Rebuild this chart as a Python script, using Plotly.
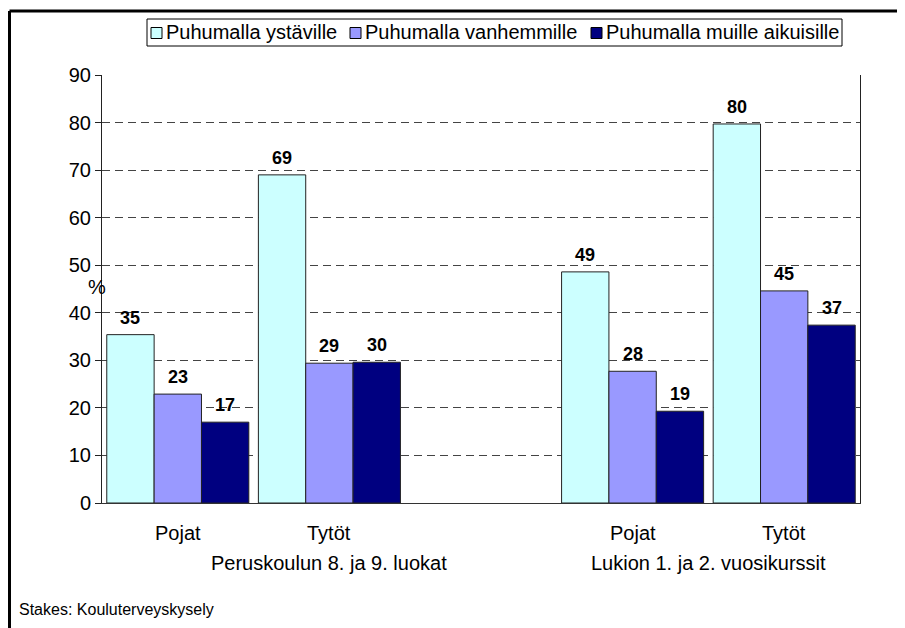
import plotly.graph_objects as go

# ---- data ----
sexes = ["Pojat", "Tytöt", "", "Pojat", "Tytöt"]
schools = ["Peruskoulun 8. ja 9. luokat", "Peruskoulun 8. ja 9. luokat", "Peruskoulun 8. ja 9. luokat",
           "Lukion 1. ja 2. vuosikurssit", "Lukion 1. ja 2. vuosikurssit"]
series_names = ["Puhumalla ystäville", "Puhumalla vanhemmille", "Puhumalla muille aikuisille"]
ystaville = [35.4, 69.0, None, 48.6, 79.7]
vanhemmille = [22.9, 29.4, None, 27.7, 44.6]
muille = [17.0, 29.6, None, 19.3, 37.4]
y_ticks = [0, 10, 20, 30, 40, 50, 60, 70, 80, 90]
source = "Stakes: Kouluterveyskysely"
y_title = "%"

colors = ["#CCFFFF", "#9999FF", "#000080"]
FONT = "Liberation Sans, Arial, sans-serif"

OFF = 8  # page body margin
W, H = 897, 620
L, T = 94, 67
R = W - (860 - OFF)
B = H - (503 - OFF)
pw, ph = W - L - R, H - T - B
BARGAP = 0.063


def px_x(px):
    """screen x pixel -> paper coordinate"""
    return (px - OFF - L) / pw


def px_y(py):
    """screen y pixel -> paper coordinate"""
    return (H - B - (py - OFF)) / ph


xs = list(range(len(sexes)))
all_series = [ystaville, vanhemmille, muille]
fig = go.Figure()
for name, vals, col in zip(series_names, all_series, colors):
    fig.add_trace(go.Bar(
        x=xs, y=vals, name=name,
        marker=dict(color=col, line=dict(color="#222222", width=1)),
        showlegend=False,
    ))

annotations = []
# value labels above bars (offset within group in pixels)
slot_px = pw / len(sexes)
bar_px = slot_px * (1 - BARGAP) / len(all_series)
for k, vals in enumerate(all_series):
    for i, v in enumerate(vals):
        if v is None:
            continue
        annotations.append(dict(x=i, y=v, xref="x", yref="y", text=f"<b>{v:.0f}</b>",
                                showarrow=False, xshift=(k - (len(all_series) - 1) / 2) * bar_px,
                                yshift=5, yanchor="bottom", xanchor="center",
                                font=dict(family=FONT, size=18, color="black")))
# category labels
for i, s in enumerate(sexes):
    if s:
        annotations.append(dict(x=i, y=px_y(533), xref="x", yref="paper", text=s,
                                showarrow=False, font=dict(family=FONT, size=20, color="black"),
                                xanchor="center", yanchor="middle"))
# school group labels
seen = []
for sc in schools:
    if sc not in seen:
        seen.append(sc)
for sc in seen:
    idx = [i for i, s in enumerate(schools) if s == sc]
    cx = (min(idx) + max(idx)) / 2
    annotations.append(dict(x=cx, y=px_y(563), xref="x", yref="paper", text=sc,
                            showarrow=False, font=dict(family=FONT, size=20, color="black"),
                            xanchor="center", yanchor="middle"))
# source
annotations.append(dict(x=px_x(17), y=px_y(609), xref="paper", yref="paper", text=source,
                        showarrow=False, font=dict(family=FONT, size=16, color="black"),
                        xanchor="left", yanchor="middle"))
# y title
annotations.append(dict(x=px_x(97), y=px_y(287), xref="paper", yref="paper", text=y_title,
                        showarrow=False, font=dict(family=FONT, size=20, color="black"),
                        xanchor="center", yanchor="middle"))

shapes = []
# outer frame (left and top edges)
shapes.append(dict(type="line", xref="paper", yref="paper", x0=px_x(9.5), x1=px_x(9.5),
                   y0=px_y(700), y1=px_y(11), line=dict(color="black", width=3)))
shapes.append(dict(type="line", xref="paper", yref="paper", x0=px_x(9.5), x1=px_x(1000),
                   y0=px_y(11), y1=px_y(11), line=dict(color="black", width=3)))

# manual legend
leg_box = (147, 19, 842, 46)
shapes.append(dict(type="rect", xref="paper", yref="paper",
                   x0=px_x(leg_box[0]), x1=px_x(leg_box[2]), y0=px_y(leg_box[3]), y1=px_y(leg_box[1]),
                   line=dict(color="black", width=1), fillcolor="white"))
leg_sq_x = [151, 350, 591]
cy = (leg_box[1] + leg_box[3]) / 2
for sx, name, col in zip(leg_sq_x, series_names, colors):
    shapes.append(dict(type="rect", xref="paper", yref="paper",
                       x0=px_x(sx), x1=px_x(sx + 11), y0=px_y(cy + 6), y1=px_y(cy - 5),
                       line=dict(color="black", width=1), fillcolor=col))
    annotations.append(dict(x=px_x(sx + 13), y=px_y(cy), xref="paper", yref="paper", text=name,
                            showarrow=False, font=dict(family=FONT, size=20, color="black"),
                            xanchor="left", yanchor="middle"))

fig.update_layout(
    width=W, height=H, autosize=False,
    margin=dict(l=L, r=R, t=T, b=B, pad=0),
    paper_bgcolor="white", plot_bgcolor="white",
    barmode="group", bargap=BARGAP, bargroupgap=0,
    font=dict(family=FONT, size=20, color="black"),
    showlegend=False,
    annotations=annotations, shapes=shapes,
    xaxis=dict(range=[-0.5, len(sexes) - 0.5], showticklabels=False, ticks="",
               showgrid=False, zeroline=False, showline=True, linecolor="#333333", linewidth=1),
    yaxis=dict(range=[0, 90], tickvals=y_ticks, ticks="outside", ticklen=6, tickcolor="#222222",
               tickfont=dict(family=FONT, size=20, color="black"),
               showgrid=True, gridcolor="#444444", griddash="8px,5px", gridwidth=1,
               zeroline=False, showline=True, linecolor="#222222", linewidth=1, mirror=True),
)

fig.write_html("out.html")
